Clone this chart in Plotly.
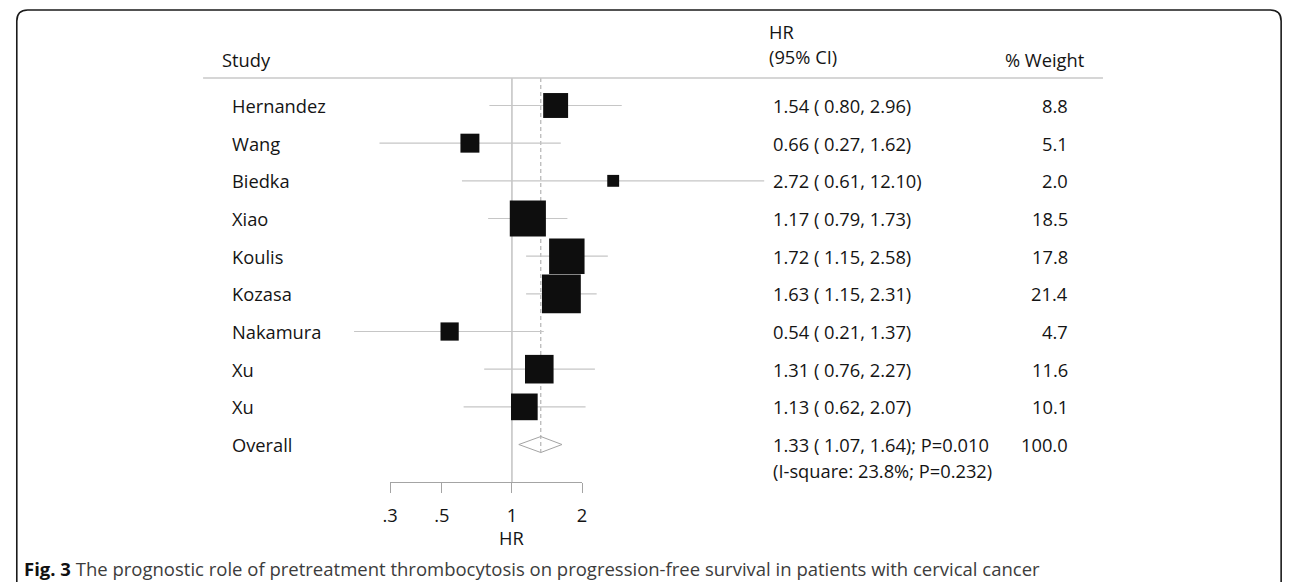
import math
import plotly.graph_objects as go

# ---------------- data ----------------
studies = ["Hernandez", "Wang", "Biedka", "Xiao", "Koulis", "Kozasa", "Nakamura", "Xu", "Xu"]
hr = [1.54, 0.66, 2.72, 1.17, 1.72, 1.63, 0.54, 1.31, 1.13]
ci_low = [0.80, 0.27, 0.61, 0.79, 1.15, 1.15, 0.21, 0.76, 0.62]
ci_high = [2.96, 1.62, 12.10, 1.73, 2.58, 2.31, 1.37, 2.27, 2.07]
weights = [8.8, 5.1, 2.0, 18.5, 17.8, 21.4, 4.7, 11.6, 10.1]

overall_label = "Overall"
overall_hr = 1.33
overall_low = 1.07
overall_high = 1.64
overall_p = "0.010"
i_square = 23.8
i_square_p = "0.232"
overall_weight = 100.0

tick_vals = [0.3, 0.5, 1, 2]
tick_text = [".3", ".5", "1", "2"]
axis_title = "HR"
header_study = "Study"
header_hr = "HR"
header_ci = "(95% CI)"
header_weight = "% Weight"
caption_bold = "Fig. 3"
caption_text = ("The prognostic role of pretreatment thrombocytosis on progression-free "
                "survival in patients with cervical cancer")

# ---------------- layout constants (page pixels) ----------------
W, H = 1292, 582
OFF = 8              # page body margin: figure pixel = page pixel - OFF
X_ONE = 509.0        # page x of HR = 1
PX_PER_LN = 102.2    # pixels per unit of ln(HR)
ROW0 = 105.5         # page y of first study row
ROW_STEP = 37.67     # pixel distance between rows
SQ_SCALE = 8.4       # square side = SQ_SCALE * sqrt(weight)
FONT = "Open Sans"
FS = 18.3
TXT = "#141414"
GREY_LINE = "#c6c6c6"
REF_LINE = "#a4a4a4"

HEADER_LINE_Y = 78
HEADER_LINE_X0, HEADER_LINE_X1 = 197, 1106
AXIS_Y = 482
STUDY_X = 224
STUDY_HDR_X = 214
HRCOL_HDR_X = 767
HRCOL_X = 771
WEIGHT_RIGHT = 1073
WEIGHT_HDR_RIGHT = 1090


def px_to_x(px):
    return (px - X_ONE) / PX_PER_LN


def py_to_y(py):
    return (py - ROW0) / ROW_STEP


def pxp(px):
    return (px - OFF) / W


def pyp(py):
    return 1 - (py - OFF) / H


n = len(studies)
rows = list(range(n))
overall_row = n

fig = go.Figure()

# CI lines
cx, cy = [], []
for i in rows:
    cx += [math.log(ci_low[i]), math.log(ci_high[i]), None]
    cy += [i, i, None]
fig.add_trace(go.Scatter(x=cx, y=cy, mode="lines",
                         line=dict(color=GREY_LINE, width=1.2),
                         hoverinfo="skip", showlegend=False))

# weight squares
fig.add_trace(go.Scatter(
    x=[math.log(v) for v in hr], y=rows, mode="markers",
    marker=dict(symbol="square", size=[SQ_SCALE * math.sqrt(w) for w in weights],
                color="#0e0e0e", opacity=1, line=dict(width=0)),
    hoverinfo="skip", showlegend=False))

# overall diamond
dh = 8 / ROW_STEP
dx = [math.log(overall_low), math.log(overall_hr), math.log(overall_high),
      math.log(overall_hr), math.log(overall_low)]
dy = [overall_row, overall_row - dh, overall_row, overall_row + dh, overall_row]
fig.add_trace(go.Scatter(x=dx, y=dy, mode="lines",
                         line=dict(color=REF_LINE, width=1),
                         hoverinfo="skip", showlegend=False))

# invisible trace to create the HR tick axis
fig.add_trace(go.Scatter(x=[math.log(tick_vals[0])], y=[overall_row], xaxis="x2", yaxis="y",
                         mode="markers", marker=dict(opacity=0), hoverinfo="skip",
                         showlegend=False))

shapes = []
# reference line at HR = 1
shapes.append(dict(type="line", xref="x", yref="y", x0=0, x1=0,
                   y0=py_to_y(HEADER_LINE_Y), y1=py_to_y(AXIS_Y),
                   line=dict(color=REF_LINE, width=1), layer="below"))
# dashed overall line
shapes.append(dict(type="line", xref="x", yref="y",
                   x0=math.log(overall_hr), x1=math.log(overall_hr),
                   y0=py_to_y(HEADER_LINE_Y), y1=overall_row + dh,
                   line=dict(color=REF_LINE, width=1, dash="4px,3px"), layer="below"))
# header rule
shapes.append(dict(type="line", xref="paper", yref="paper",
                   x0=pxp(HEADER_LINE_X0), x1=pxp(HEADER_LINE_X1),
                   y0=pyp(HEADER_LINE_Y), y1=pyp(HEADER_LINE_Y),
                   line=dict(color="#c8c8c8", width=1.5)))
# rounded frame
fx0, fx1, ft, fb, r = 8.8, 1286, 10, 620, 11
path = (f"M {pxp(fx0)},{pyp(fb)} L {pxp(fx0)},{pyp(ft + r)} "
        f"Q {pxp(fx0)},{pyp(ft)} {pxp(fx0 + r)},{pyp(ft)} "
        f"L {pxp(fx1 - r)},{pyp(ft)} "
        f"Q {pxp(fx1)},{pyp(ft)} {pxp(fx1)},{pyp(ft + r)} "
        f"L {pxp(fx1)},{pyp(fb)}")
shapes.append(dict(type="path", xref="paper", yref="paper", path=path,
                   line=dict(color="#1a1a1a", width=1.6)))

ann = []


def text(px, y, s, anchor="left", yref="y", size=FS, color=TXT):
    ann.append(dict(x=pxp(px), y=y, xref="paper", yref=yref, text=s, showarrow=False,
                    xanchor=anchor, yanchor="middle",
                    font=dict(family=FONT, size=size, color=color)))


# headers
text(STUDY_HDR_X, pyp(59), header_study, yref="paper")
text(HRCOL_HDR_X, pyp(32), header_hr, yref="paper")
text(HRCOL_HDR_X, pyp(56), header_ci, yref="paper")
text(WEIGHT_HDR_RIGHT, pyp(59), header_weight, anchor="right", yref="paper")

# rows
for i in rows:
    text(STUDY_X, i, studies[i])
    text(HRCOL_X, i, f"{hr[i]:.2f} ( {ci_low[i]:.2f}, {ci_high[i]:.2f})")
    text(WEIGHT_RIGHT, i, f"{weights[i]:.1f}", anchor="right")

text(STUDY_X, overall_row, overall_label)
text(HRCOL_X, overall_row,
     f"{overall_hr:.2f} ( {overall_low:.2f}, {overall_high:.2f}); P={overall_p}")
text(HRCOL_X, overall_row + 26 / ROW_STEP,
     f"(I-square: {i_square:.1f}%; P={i_square_p})")
text(WEIGHT_RIGHT, overall_row, f"{overall_weight:.1f}", anchor="right")

# axis title
ann.append(dict(x=0, y=py_to_y(537), xref="x", yref="y", text=axis_title,
                showarrow=False, xanchor="center", yanchor="middle",
                font=dict(family=FONT, size=FS, color=TXT)))

# caption
ann.append(dict(x=pxp(14), y=pyp(568), xref="paper", yref="paper",
                text=f"<b><span style='color:#111'>{caption_bold}</span></b> {caption_text}",
                showarrow=False, xanchor="left", yanchor="middle",
                font=dict(family=FONT, size=18.5, color="#3c3c3c")))

ax_lo = math.log(tick_vals[0])
ax_hi = math.log(tick_vals[-1])

fig.update_layout(
    width=W, height=H,
    margin=dict(l=0, r=0, t=0, b=0),
    paper_bgcolor="white", plot_bgcolor="rgba(0,0,0,0)",
    showlegend=False,
    xaxis=dict(range=[px_to_x(OFF), px_to_x(W + OFF)], domain=[0, 1], visible=False,
               fixedrange=True),
    yaxis=dict(range=[py_to_y(H + OFF), py_to_y(OFF)], domain=[0, 1], visible=False,
               fixedrange=True),
    xaxis2=dict(range=[ax_lo, ax_hi],
                domain=[pxp(X_ONE + PX_PER_LN * ax_lo), pxp(X_ONE + PX_PER_LN * ax_hi)],
                anchor="free", position=pyp(AXIS_Y), side="bottom",
                showline=True, linecolor=REF_LINE, linewidth=1,
                ticks="outside", ticklen=10, tickcolor=REF_LINE, tickwidth=1,
                tickvals=[math.log(v) for v in tick_vals], ticktext=tick_text,
                tickfont=dict(family=FONT, size=FS, color=TXT),
                ticklabelstandoff=7,
                showgrid=False, zeroline=False, fixedrange=True),
    shapes=shapes, annotations=ann,
)

fig.write_html("out.html")
